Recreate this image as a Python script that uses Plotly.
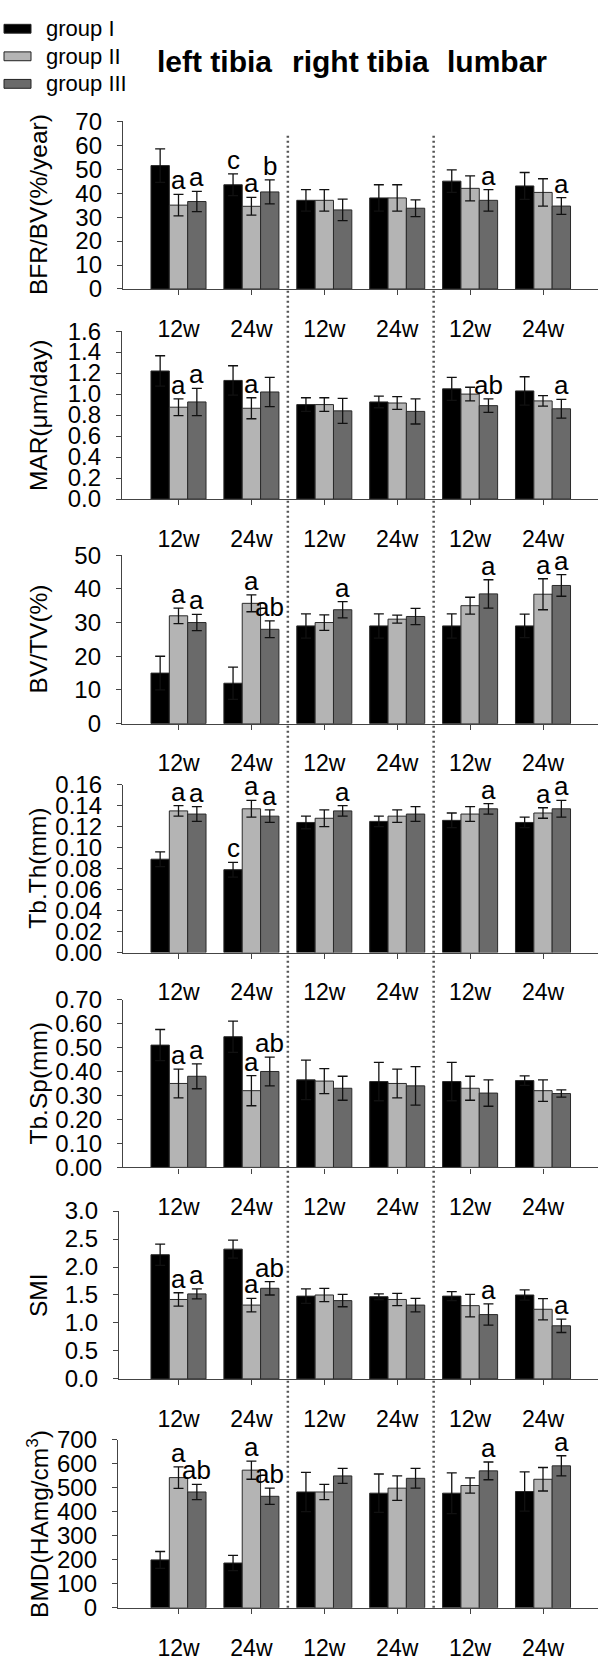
import plotly.graph_objects as go

W, H = 600, 1674

# ---------------- data ----------------
tick_labels = ["12w", "24w", "12w", "24w", "12w", "24w"]
sites = ["left tibia", "right tibia", "lumbar"]
groups = ["group I", "group II", "group III"]

# BFR/BV (%/year)
bfr_g1 = [51.5, 43.5, 37.0, 38.0, 45.0, 43.0]
bfr_g1_err = [7.0, 4.5, 4.5, 5.5, 4.7, 5.6]
bfr_g2 = [35.0, 34.5, 37.0, 38.0, 42.0, 40.3]
bfr_g2_err = [4.5, 3.7, 4.5, 5.5, 5.2, 5.7]
bfr_g3 = [36.5, 40.5, 33.0, 33.7, 37.0, 34.6]
bfr_g3_err = [4.2, 5.0, 4.5, 3.5, 4.5, 3.5]
bfr_letters = [(0, 1, "a"), (0, 2, "a"), (1, 0, "c"), (1, 1, "a"), (1, 2, "b"), (4, 2, "a"), (5, 2, "a")]

# MAR (um/day)
mar_g1 = [1.22, 1.13, 0.90, 0.925, 1.05, 1.03]
mar_g1_err = [0.145, 0.14, 0.065, 0.055, 0.11, 0.135]
mar_g2 = [0.875, 0.865, 0.90, 0.915, 1.0, 0.935]
mar_g2_err = [0.08, 0.10, 0.065, 0.06, 0.065, 0.05]
mar_g3 = [0.925, 1.02, 0.84, 0.835, 0.89, 0.86]
mar_g3_err = [0.13, 0.14, 0.12, 0.12, 0.065, 0.09]
mar_letters = [(0, 1, "a"), (0, 2, "a"), (1, 1, "a"), (4, 2, "ab"), (5, 2, "a")]

# BV/TV (%)
bvtv_g1 = [15.0, 12.0, 29.0, 29.0, 29.0, 29.0]
bvtv_g1_err = [5.0, 4.8, 3.6, 3.6, 3.6, 3.5]
bvtv_g2 = [32.0, 35.7, 30.0, 31.0, 35.0, 38.4]
bvtv_g2_err = [2.3, 2.5, 2.3, 1.2, 2.5, 4.6]
bvtv_g3 = [30.0, 28.0, 33.8, 31.8, 38.5, 41.0]
bvtv_g3_err = [2.4, 2.5, 2.4, 2.4, 4.2, 3.2]
bvtv_letters = [(0, 1, "a"), (0, 2, "a"), (1, 1, "a"), (1, 2, "ab"), (2, 2, "a"), (4, 2, "a"), (5, 1, "a"), (5, 2, "a")]

# Tb.Th (mm)
tbth_g1 = [0.089, 0.079, 0.124, 0.125, 0.126, 0.124]
tbth_g1_err = [0.007, 0.007, 0.006, 0.005, 0.007, 0.005]
tbth_g2 = [0.135, 0.137, 0.128, 0.130, 0.132, 0.133]
tbth_g2_err = [0.005, 0.008, 0.008, 0.006, 0.007, 0.005]
tbth_g3 = [0.132, 0.130, 0.135, 0.132, 0.137, 0.137]
tbth_g3_err = [0.007, 0.006, 0.005, 0.007, 0.005, 0.008]
tbth_letters = [(0, 1, "a"), (0, 2, "a"), (1, 0, "c"), (1, 1, "a"), (1, 2, "a"), (2, 2, "a"), (4, 2, "a"), (5, 1, "a"), (5, 2, "a")]

# Tb.Sp (mm)
tbsp_g1 = [0.51, 0.545, 0.365, 0.358, 0.358, 0.362]
tbsp_g1_err = [0.065, 0.065, 0.082, 0.08, 0.08, 0.02]
tbsp_g2 = [0.35, 0.32, 0.36, 0.35, 0.33, 0.32]
tbsp_g2_err = [0.06, 0.063, 0.052, 0.06, 0.05, 0.045]
tbsp_g3 = [0.38, 0.40, 0.33, 0.34, 0.31, 0.308]
tbsp_g3_err = [0.052, 0.06, 0.05, 0.08, 0.055, 0.015]
tbsp_letters = [(0, 1, "a"), (0, 2, "a"), (1, 1, "a"), (1, 2, "ab")]

# SMI
smi_g1 = [2.22, 2.32, 1.48, 1.47, 1.48, 1.50]
smi_g1_err = [0.19, 0.16, 0.13, 0.05, 0.08, 0.09]
smi_g2 = [1.42, 1.32, 1.50, 1.42, 1.31, 1.245]
smi_g2_err = [0.12, 0.12, 0.12, 0.11, 0.20, 0.19]
smi_g3 = [1.52, 1.62, 1.40, 1.32, 1.15, 0.95]
smi_g3_err = [0.09, 0.12, 0.11, 0.12, 0.19, 0.12]
smi_letters = [(0, 1, "a"), (0, 2, "a"), (1, 1, "a"), (1, 2, "ab"), (4, 2, "a"), (5, 2, "a")]

# BMD (HAmg/cm3)
bmd_g1 = [200, 187, 483, 478, 478, 485]
bmd_g1_err = [35, 32, 82, 80, 85, 82]
bmd_g2 = [543, 574, 483, 499, 510, 536]
bmd_g2_err = [45, 38, 32, 51, 32, 49]
bmd_g3 = [483, 465, 550, 540, 571, 592]
bmd_g3_err = [32, 34, 31, 41, 37, 42]
bmd_letters = [(0, 1, "a"), (0, 2, "ab"), (1, 1, "a"), (1, 2, "ab"), (4, 2, "a"), (5, 2, "a")]

panels = [
    dict(title="BFR/BV(%/year)", vals=[bfr_g1, bfr_g2, bfr_g3], errs=[bfr_g1_err, bfr_g2_err, bfr_g3_err],
         letters=bfr_letters, yrange=[0, 70], dtick=10, fmt="d"),
    dict(title="MAR(\u03bcm/day)", vals=[mar_g1, mar_g2, mar_g3], errs=[mar_g1_err, mar_g2_err, mar_g3_err],
         letters=mar_letters, yrange=[0, 1.6], dtick=0.2, fmt=".1f"),
    dict(title="BV/TV(%)", vals=[bvtv_g1, bvtv_g2, bvtv_g3], errs=[bvtv_g1_err, bvtv_g2_err, bvtv_g3_err],
         letters=bvtv_letters, yrange=[0, 50], dtick=10, fmt="d"),
    dict(title="Tb.Th(mm)", vals=[tbth_g1, tbth_g2, tbth_g3], errs=[tbth_g1_err, tbth_g2_err, tbth_g3_err],
         letters=tbth_letters, yrange=[0, 0.16], dtick=0.02, fmt=".2f"),
    dict(title="Tb.Sp(mm)", vals=[tbsp_g1, tbsp_g2, tbsp_g3], errs=[tbsp_g1_err, tbsp_g2_err, tbsp_g3_err],
         letters=tbsp_letters, yrange=[0, 0.70], dtick=0.1, fmt=".2f"),
    dict(title="SMI", vals=[smi_g1, smi_g2, smi_g3], errs=[smi_g1_err, smi_g2_err, smi_g3_err],
         letters=smi_letters, yrange=[0, 3.0], dtick=0.5, fmt=".1f"),
    dict(title="BMD(HAmg/cm<sup>3</sup>)", vals=[bmd_g1, bmd_g2, bmd_g3], errs=[bmd_g1_err, bmd_g2_err, bmd_g3_err],
         letters=bmd_letters, yrange=[0, 700], dtick=100, fmt="d"),
]

# ---------------- layout geometry (pixels) ----------------
# (left, top, bottom) of each plot area
geom = [
    (123, 109, 279.5),
    (122, 322.3, 493),
    (122, 550, 721.3),
    (123, 783.3, 954),
    (123, 1001.7, 1172.3),
    (119, 1216.7, 1387.3),
    (118, 1449.3, 1620),
]
RIGHT = 598
TICK0 = 178.5      # pixel of first category
STEP = 72.9        # pixel spacing of categories
BARGAP = 0.245

colors = ["#000000", "#b4b4b4", "#6a6a6a"]
FONT = "Liberation Sans, Arial, sans-serif"
AX_COLOR = "#444444"


def px(x):
    return x / W


def py(y):
    return 1 - y / H


fig = go.Figure()
layout = dict(
    width=W, height=H,
    margin=dict(l=0, r=0, t=0, b=0),
    paper_bgcolor="white", plot_bgcolor="white",
    barmode="group", bargap=BARGAP, bargroupgap=0,
    showlegend=False,
    font=dict(family=FONT, size=23, color="black"),
)
annotations = []
shapes = []

xcats = list(range(len(tick_labels)))
barw = (1 - BARGAP) / 3

for i, p in enumerate(panels):
    n = "" if i == 0 else str(i + 1)
    left, top, bottom = geom[i]
    for g in range(3):
        fig.add_trace(go.Bar(
            x=xcats, y=p["vals"][g], name=groups[g],
            marker=dict(color=colors[g], line=dict(color="#2a2a2a", width=1)),
            error_y=dict(type="data", array=p["errs"][g], visible=True,
                         color="#111111", thickness=1.3, width=5),
            xaxis="x" + n, yaxis="y" + n, showlegend=False,
        ))
    layout["xaxis" + n] = dict(
        domain=[px(left), px(RIGHT)], anchor="y" + n,
        range=[(left - TICK0) / STEP, (RIGHT - TICK0) / STEP],
        tickmode="array", tickvals=xcats, ticktext=tick_labels,
        showline=True, linecolor=AX_COLOR, linewidth=1.3,
        ticks="outside", ticklen=5, tickcolor=AX_COLOR, tickwidth=1.3,
        showgrid=False, zeroline=False, ticklabelstandoff=14,
        tickfont=dict(size=23),
    )
    layout["yaxis" + n] = dict(
        domain=[py(bottom), py(top)], anchor="x" + n,
        range=p["yrange"], dtick=p["dtick"], tick0=0, tickformat=p["fmt"],
        showline=True, linecolor=AX_COLOR, linewidth=1.3,
        ticks="outside", ticklen=5, tickcolor=AX_COLOR, tickwidth=1.3,
        showgrid=False, zeroline=False, ticklabelstandoff=10,
        tickfont=dict(size=24),
    )
    # y-axis title
    annotations.append(dict(
        text=p["title"], textangle=-90, x=px(38), y=py((top + bottom) / 2),
        xref="paper", yref="paper", xanchor="center", yanchor="middle",
        showarrow=False, font=dict(size=24.5),
    ))
    # significance letters
    for (c, g, t) in p["letters"]:
        annotations.append(dict(
            text=t, x=c + (g - 1) * barw, y=p["vals"][g][c] + p["errs"][g][c],
            xref="x" + n, yref="y" + n, xanchor="center", yanchor="bottom",
            showarrow=False, font=dict(size=26), yshift=-3,
        ))

# dotted separators between sites
for xs in (1.5, 3.5):
    shapes.append(dict(type="line", xref="x", yref="paper", x0=xs, x1=xs,
                       y0=py(1620), y1=py(122),
                       line=dict(color="#555555", width=2.5, dash="2px,3px")))

# site headers
for s, cx in zip(sites, (214.5, 360, 496.6)):
    annotations.append(dict(text="<b>%s</b>" % s, x=px(cx), y=py(48), xref="paper", yref="paper",
                            xanchor="center", yanchor="middle", showarrow=False,
                            font=dict(size=30, family="Liberation Sans, Arial, sans-serif")))

# legend
for g, yy in zip(range(3), (15, 43, 71)):
    shapes.append(dict(type="rect", xref="paper", yref="paper",
                       x0=px(4), x1=px(31), y0=py(yy + 4.5), y1=py(yy - 4.5),
                       fillcolor=colors[g], line=dict(color="#222222", width=1)))
    annotations.append(dict(text=groups[g], x=px(44), y=py(yy), xref="paper", yref="paper",
                            xanchor="left", yanchor="middle", showarrow=False,
                            font=dict(size=22)))

layout["annotations"] = annotations
layout["shapes"] = shapes
fig.update_layout(**layout)
fig.write_html("out.html", config={"displayModeBar": False},
               post_script="document.body.style.margin='0px';")
